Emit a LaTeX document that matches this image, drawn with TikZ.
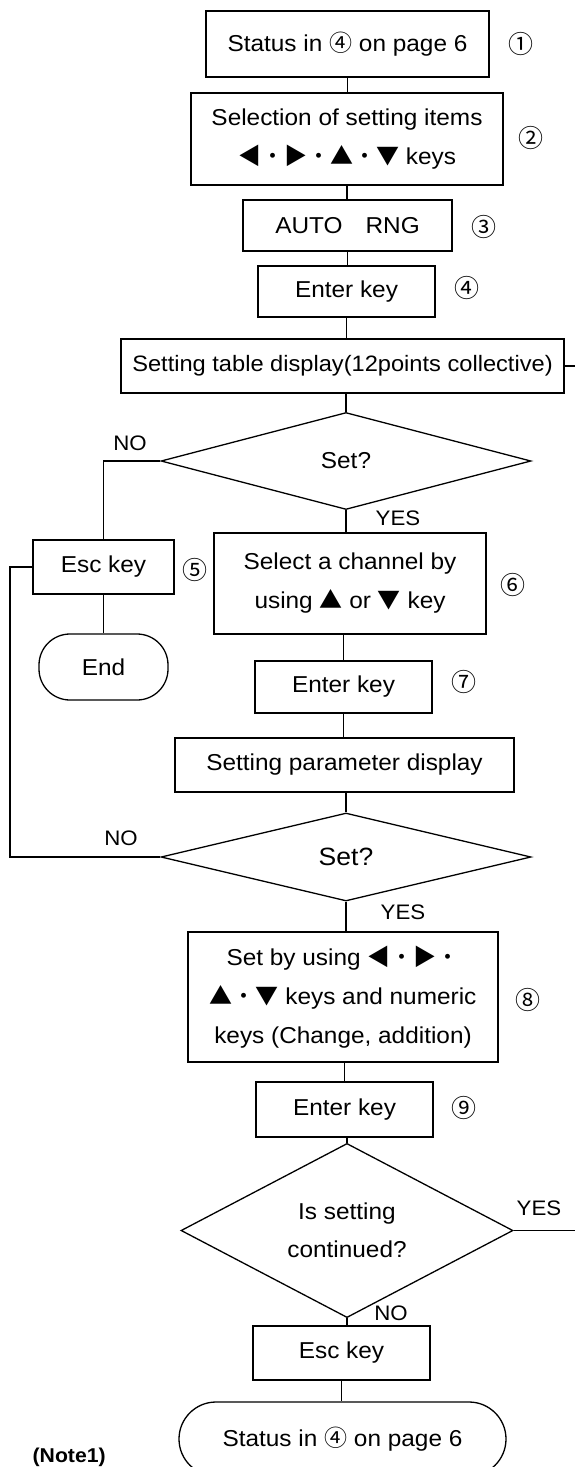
\documentclass[tikz,border=0pt]{standalone}
\usepackage{fontspec}
\setmainfont[FakeStretch=1.06]{Liberation Sans}
\newfontfamily\cjk{Noto Sans CJK JP}
\usetikzlibrary{shapes.geometric}
\newcommand{\sym}[1]{{\cjk #1}}
\begin{document}
\begin{tikzpicture}[x=1pt,y=-1pt,
  line width=1.3pt,
  every node/.style={font=\fontsize{23}{39}\selectfont, inner sep=0pt},
  box/.style={draw, rectangle, align=center},
  dec/.style={draw, diamond, align=center},
  term/.style={draw, rectangle, rounded corners=#1, align=center},
  num/.style={font=\fontsize{25}{28}\selectfont\cjk},
  lbl/.style={font=\fontsize{21}{24}\selectfont},
]
\useasboundingbox (0,0) rectangle (575,1467);
\fill[white] (0,0) rectangle (575,1467);
\clip (0,0) rectangle (575,1467);

% main column
\node[box, minimum width=283pt, minimum height=66pt] (b1) at (347.5,44) {Status in \sym{④} on page 6};
\node[box, minimum width=312pt, minimum height=92pt] (b2) at (347,139) {Selection of setting items\\ \sym{◀・▶・▲・▼} keys};
\node[box, minimum width=209pt, minimum height=51pt] (b3) at (347.5,225.5) {AUTO\quad RNG};
\node[box, minimum width=177pt, minimum height=51pt] (b4) at (346.5,291.5) {Enter key};
\node[box, minimum width=443pt, minimum height=54pt, font=\fontsize{22.3}{30}\selectfont] (b5) at (342.5,366) {Setting table display(12points collective)};
\node[dec, minimum width=370pt, minimum height=97pt] (d1) at (346,461) {Set?};

\node[box, minimum width=141pt, minimum height=54pt] (esc1) at (103.5,567) {Esc key};
\node[term=31pt, minimum width=129pt, minimum height=66pt] (end) at (103.5,667) {End};

\node[box, minimum width=272pt, minimum height=101pt] (b6) at (350,583.5) {Select a channel by\\ using \sym{▲} or \sym{▼} key};
\node[box, minimum width=177pt, minimum height=52pt] (b7) at (343.5,687) {Enter key};
\node[box, minimum width=339pt, minimum height=54pt] (b8) at (344.5,765) {Setting parameter display};
\node[dec, minimum width=370pt, minimum height=88pt, font=\fontsize{25}{30}\selectfont] (d2) at (346,857) {Set?};
\node[box, minimum width=310pt, minimum height=130pt] (b9) at (343,997) {Set by using \sym{◀・▶・}\\ \sym{▲・▼} keys and numeric\\ keys (Change, addition)};
\node[box, minimum width=177pt, minimum height=55pt] (b10) at (344.5,1109.5) {Enter key};
\node[dec, minimum width=332pt, minimum height=155pt, font=\fontsize{23}{38}\selectfont] (d3) at (347,1230.5) {Is setting\\ continued?};
\node[box, minimum width=177pt, minimum height=54pt] (esc2) at (341.5,1353) {Esc key};
\node[term=37pt, minimum width=327pt, minimum height=74pt] (t2) at (342.5,1439) {Status in \sym{④} on page 6};

% step numbers
\node[num] (n1) at (521,44) {①};
\node[num] (n2) at (531,138) {②};
\node[num] (n3) at (484,227) {③};
\node[num] (n4) at (467,288) {④};
\node[num] (n5) at (195,570) {⑤};
\node[num] (n6) at (513,585) {⑥};
\node[num] (n7) at (464,682) {⑦};
\node[num] (n8) at (528,1000) {⑧};
\node[num] (n9) at (464,1108) {⑨};

% branch labels
\node[lbl] (no1) at (130,443) {NO};
\node[lbl] (yes1) at (398,518) {YES};
\node[lbl] (no2) at (121,838) {NO};
\node[lbl] (yes2) at (403,912) {YES};
\node[lbl] (yes3) at (539,1208) {YES};
\node[lbl] (no3) at (391,1313) {NO};

\node[anchor=base west, font=\fontsize{20}{24}\selectfont\bfseries] (note) at (32,1462) {(Note1)};

% coordinates
\coordinate (c5) at (575,366);
\coordinate (c1) at (103.5,461);
\coordinate (cl1) at (10,567);
\coordinate (cl2) at (10,857);
\coordinate (c3) at (575,1230.5);

% connectors
\draw (b1.south) -- (b1.south |- b2.north);
\draw (b2.south) -- (b2.south |- b3.north);
\draw (b3.south) -- (b3.south |- b4.north);
\draw (b4.south) -- (b4.south |- b5.north);
\draw (d1.north |- b5.south) -- (d1.north);
\draw (b5.east) -- (c5);
\draw (d1.south) -- (d1.south |- b6.north);
\draw (d1.west) -- (c1) -- (esc1.north);
\draw (esc1.south) -- (end.north);
\draw (esc1.west) -- (cl1) -- (cl2) -- (d2.west);
\draw (b7.north |- b6.south) -- (b7.north);
\draw (b7.south) -- (b7.south |- b8.north);
\draw (d2.north |- b8.south) -- (d2.north);
\draw (d2.south) -- (d2.south |- b9.north);
\draw (b10.north |- b9.south) -- (b10.north);
\draw (d3.north |- b10.south) -- (d3.north);
\draw (d3.east) -- (c3);
\draw (d3.south) -- (d3.south |- esc2.north);
\draw (esc2.south) -- (esc2.south |- t2.north);
\end{tikzpicture}
\end{document}
